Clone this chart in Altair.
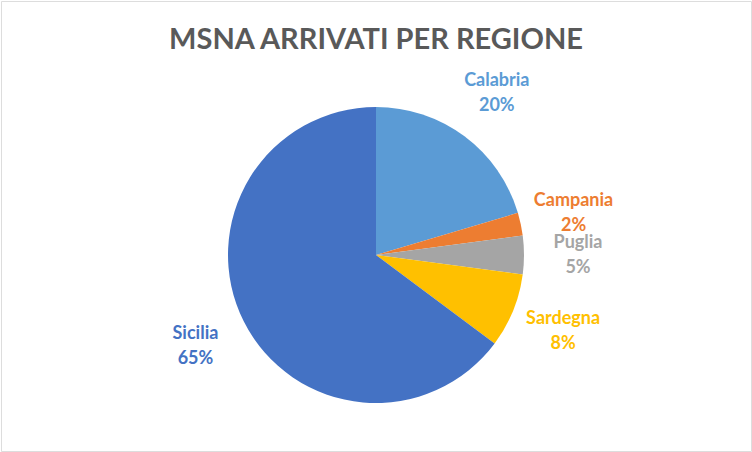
import altair as alt
import pandas as pd

regioni = ["Calabria", "Campania", "Puglia", "Sardegna", "Sicilia"]
valori = [20.4, 2.5, 4.2, 8.1, 64.8]
percentuali = ["20%", "2%", "5%", "8%", "65%"]
colori = ["#5B9BD5", "#ED7D31", "#A5A5A5", "#FFC000", "#4472C4"]

df = pd.DataFrame({
    "regione": regioni,
    "valore": valori,
    "ordine": list(range(len(regioni))),
    "etichetta": [f"{r}\n{p}" for r, p in zip(regioni, percentuali)],
})

color = alt.Color("regione:N", scale=alt.Scale(domain=regioni, range=colori), legend=None)
theta = alt.Theta("valore:Q", stack=True)
order = alt.Order("ordine:Q", sort="ascending")

base = alt.Chart(df).encode(theta=theta, order=order, color=color)

cx, cy = 375, 254
pie = base.mark_arc(outerRadius=148).encode(x=alt.value(cx), y=alt.value(cy))
labels = base.mark_text(
    radius=202, font="Lato", fontSize=18, fontWeight="bold",
    lineBreak="\n", lineHeight=25, baseline="middle", align="center", dy=-12
).encode(text="etichetta:N", x=alt.value(cx), y=alt.value(cy))

chart = alt.layer(pie, labels).properties(
    width=750, height=450,
    autosize=alt.AutoSizeParams(type="none"),
    padding=1,
    title=alt.TitleParams(
        "MSNA ARRIVATI PER REGIONE", font="Lato", fontSize=29, fontWeight="bold",
        color="#595959", anchor="middle", offset=0, baseline="alphabetic", dy=77
    ),
).configure_view(stroke="#D9D9D9", strokeWidth=2).configure(background="white")

chart.save("out.html", embed_options={"renderer": "svg", "actions": False})
